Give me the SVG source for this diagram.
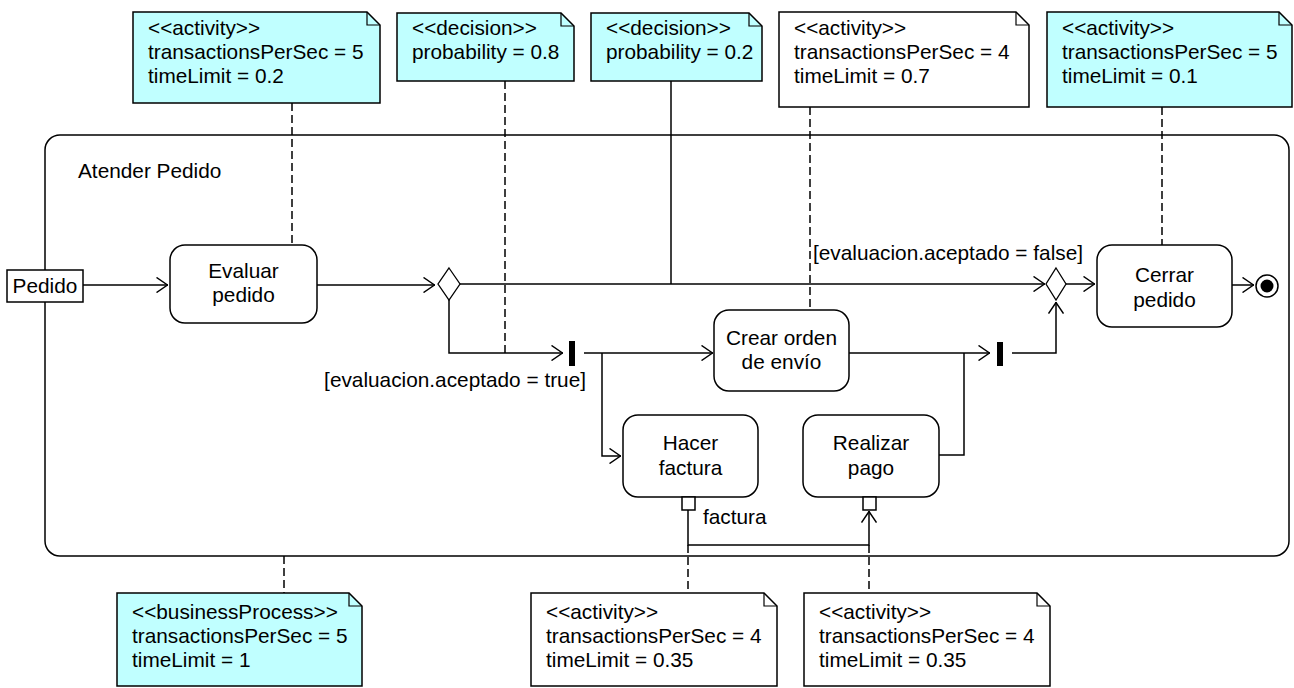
<svg xmlns="http://www.w3.org/2000/svg" width="1294" height="688" viewBox="0 0 1294 688">
<style>
text{font-family:"Liberation Sans",Arial,sans-serif;font-size:20.8px;fill:#000}
.c{text-anchor:middle}
.e{text-anchor:end}
.note{stroke:#000;stroke-width:1.5}
.cy{fill:#c0ffff}
.wh{fill:#fff}
.fold{fill:none;stroke:#000;stroke-width:1.2}
.act{fill:#fff;stroke:#000;stroke-width:1.5}
.ln{fill:none;stroke:#000;stroke-width:1.5}
.dash{fill:none;stroke:#000;stroke-width:1.5;stroke-dasharray:8 4}
.bar{fill:#000}
</style>
<defs>
<marker id="arr" viewBox="0 0 12 16" refX="12" refY="8" markerWidth="12" markerHeight="16" markerUnits="userSpaceOnUse" orient="auto">
<path d="M0.5,0.5 L11.5,8 L0.5,15.5" fill="none" stroke="#000" stroke-width="1.5"/>
</marker>
</defs>
<rect width="1294" height="688" fill="#fff"/>

<g id="container">
<rect x="45" y="135" width="1244" height="421" rx="15" ry="15" fill="none" stroke="#000" stroke-width="1.5"/>
<text x="78" y="178">Atender Pedido</text>
</g>

<g id="connectors">
<!-- note links -->
<path class="dash" d="M292,103 V245"/>
<path class="dash" d="M505,81 V353"/>
<path class="ln" d="M671,81 V284"/>
<path class="dash" d="M810,107 V310"/>
<path class="dash" d="M1162,107 V245"/>
<path class="dash" d="M284,556 V593"/>
<path class="dash" d="M688,545 V593"/>
<path class="dash" d="M869,545 V593"/>
<!-- flows -->
<path class="ln" d="M83,285 H168" marker-end="url(#arr)"/>
<path class="ln" d="M317,285 H435" marker-end="url(#arr)"/>
<path class="ln" d="M459,284 H1045" marker-end="url(#arr)"/>
<path class="ln" d="M1066,284 H1095" marker-end="url(#arr)"/>
<path class="ln" d="M1232,285 H1254" marker-end="url(#arr)"/>
<path class="ln" d="M449,300 V353 H563" marker-end="url(#arr)"/>
<path class="ln" d="M584,353 H713" marker-end="url(#arr)"/>
<path class="ln" d="M602,353 V456 H621" marker-end="url(#arr)"/>
<path class="ln" d="M849,353 H990" marker-end="url(#arr)"/>
<path class="ln" d="M939,455 H964 V353"/>
<path class="ln" d="M1012,353 H1056 V302" marker-end="url(#arr)"/>
<path class="ln" d="M688,510 V545 H869 V511" marker-end="url(#arr)"/>
<text x="1083" y="260" class="e">[evaluacion.aceptado = false]</text>
<text x="586" y="387" class="e">[evaluacion.aceptado = true]</text>
<text x="703" y="524">factura</text>
</g>

<g id="pedido">
<rect x="7" y="270" width="76" height="32" fill="#fff" stroke="#000" stroke-width="1.5"/>
<text x="45" y="293" class="c">Pedido</text>
</g>

<g id="evaluar">
<rect class="act" x="170" y="245" width="147" height="78" rx="15"/>
<text x="243.5" y="278" class="c">Evaluar</text>
<text x="243.5" y="302" class="c">pedido</text>
</g>

<g id="decision">
<path d="M449,268 L460,284 L449,300 L438,284 Z" fill="#fff" stroke="#000" stroke-width="1.3"/>
</g>

<g id="merge">
<path d="M1056,268 L1066,284 L1056,300 L1046,284 Z" fill="#fff" stroke="#000" stroke-width="1.3"/>
</g>

<g id="fork">
<rect class="bar" x="569" y="341" width="6" height="25"/>
</g>

<g id="join">
<rect class="bar" x="997" y="342" width="6" height="24"/>
</g>

<g id="crear">
<rect class="act" x="714" y="310" width="135" height="81" rx="15"/>
<text x="781.5" y="345" class="c">Crear orden</text>
<text x="781.5" y="369" class="c">de envío</text>
</g>

<g id="hacer">
<rect class="act" x="623" y="415" width="135" height="82" rx="15"/>
<text x="690.5" y="450" class="c">Hacer</text>
<text x="690.5" y="475" class="c">factura</text>
<rect x="682" y="497" width="13" height="13" fill="#fff" stroke="#000" stroke-width="1.5"/>
</g>

<g id="realizar">
<rect class="act" x="803" y="415" width="136" height="82" rx="15"/>
<text x="871" y="450" class="c">Realizar</text>
<text x="871" y="475" class="c">pago</text>
<rect x="863" y="497" width="13" height="13" fill="#fff" stroke="#000" stroke-width="1.5"/>
</g>

<g id="cerrar">
<rect class="act" x="1097" y="245" width="135" height="82" rx="15"/>
<text x="1164.5" y="282" class="c">Cerrar</text>
<text x="1164.5" y="307" class="c">pedido</text>
</g>

<g id="final">
<circle cx="1267" cy="286" r="11" fill="#fff" stroke="#000" stroke-width="1.5"/>
<circle cx="1267" cy="286" r="6.5" fill="#000"/>
</g>

<g id="note1">
<path class="note cy" d="M133,12 H367 L380,25 V103 H133 Z"/>
<path class="fold" d="M367,12 V25 H380"/>
<text x="148" y="35">&lt;&lt;activity&gt;&gt;</text>
<text x="148" y="59">transactionsPerSec = 5</text>
<text x="148" y="83">timeLimit = 0.2</text>
</g>

<g id="note2">
<path class="note cy" d="M397,13 H561 L574,26 V81 H397 Z"/>
<path class="fold" d="M561,13 V26 H574"/>
<text x="412" y="35">&lt;&lt;decision&gt;&gt;</text>
<text x="412" y="59">probability = 0.8</text>
</g>

<g id="note3">
<path class="note cy" d="M591,13 H749 L762,26 V81 H591 Z"/>
<path class="fold" d="M749,13 V26 H762"/>
<text x="606" y="35">&lt;&lt;decision&gt;&gt;</text>
<text x="606" y="59">probability = 0.2</text>
</g>

<g id="note4">
<path class="note wh" d="M779,12 H1016 L1029,25 V107 H779 Z"/>
<path class="fold" d="M1016,12 V25 H1029"/>
<text x="794" y="35">&lt;&lt;activity&gt;&gt;</text>
<text x="794" y="59">transactionsPerSec = 4</text>
<text x="794" y="83">timeLimit = 0.7</text>
</g>

<g id="note5">
<path class="note cy" d="M1047,12 H1279 L1292,25 V107 H1047 Z"/>
<path class="fold" d="M1279,12 V25 H1292"/>
<text x="1062" y="35">&lt;&lt;activity&gt;&gt;</text>
<text x="1062" y="59">transactionsPerSec = 5</text>
<text x="1062" y="83">timeLimit = 0.1</text>
</g>

<g id="note6">
<path class="note cy" d="M117,593 H349 L362,606 V686 H117 Z"/>
<path class="fold" d="M349,593 V606 H362"/>
<text x="132" y="619">&lt;&lt;businessProcess&gt;&gt;</text>
<text x="132" y="643">transactionsPerSec = 5</text>
<text x="132" y="667">timeLimit = 1</text>
</g>

<g id="note7">
<path class="note wh" d="M531,593 H764 L777,606 V686 H531 Z"/>
<path class="fold" d="M764,593 V606 H777"/>
<text x="546" y="619">&lt;&lt;activity&gt;&gt;</text>
<text x="546" y="643">transactionsPerSec = 4</text>
<text x="546" y="667">timeLimit = 0.35</text>
</g>

<g id="note8">
<path class="note wh" d="M804,593 H1037 L1050,606 V686 H804 Z"/>
<path class="fold" d="M1037,593 V606 H1050"/>
<text x="819" y="619">&lt;&lt;activity&gt;&gt;</text>
<text x="819" y="643">transactionsPerSec = 4</text>
<text x="819" y="667">timeLimit = 0.35</text>
</g>
</svg>
